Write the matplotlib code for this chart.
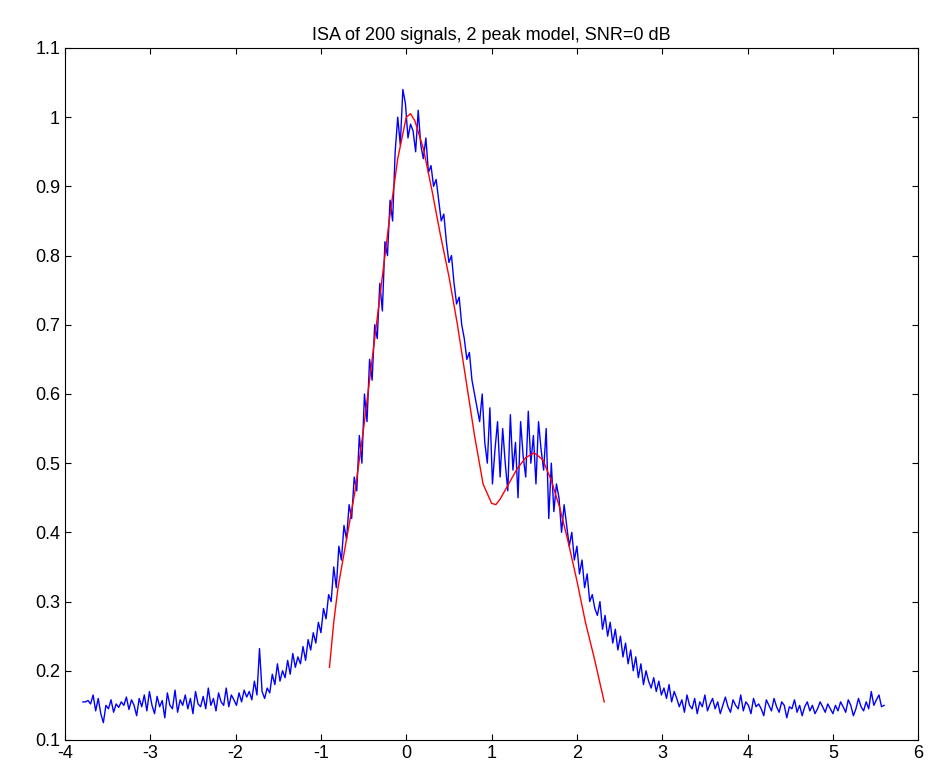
import numpy as np
import matplotlib
matplotlib.use("Agg")
import matplotlib.pyplot as plt

plt.rcParams['font.family'] = ['Liberation Sans', 'DejaVu Sans']
plt.rcParams['axes.unicode_minus'] = False

blue_y = [
.155,.155,.157,.152,.165,.142,.160,.138,.125,.150,.145,.158,.140,.152,.147,.155,.150,.162,.144,.158,
.150,.135,.160,.148,.165,.142,.170,.150,.138,.163,.148,.157,.132,.168,.150,.145,.172,.140,.158,.150,
.165,.145,.160,.138,.170,.152,.148,.163,.145,.175,.150,.160,.142,.168,.155,.150,.175,.148,.165,.158,
.150,.168,.155,.172,.162,.170,.158,.185,.165,.232,.170,.160,.175,.168,.195,.180,
.210,.185,.200,.190,.215,.195,.225,.205,.220,.210,.235,.215,.245,
.230,.255,.240,.270,.255,.290,.275,.310,.300,.350,.320,.380,.360,.410,.390,.440,.420,
.480,.460,.540,.500,.600,.560,.650,.620,.700,.680,.760,.720,.820,.800,.880,.850,.950,
1.000,.960,1.040,1.020,.970,.990,.980,.950,1.010,.960,.940,.970,.920,.930,.900,.910,.880,.850,.860,
.820,.790,.800,.760,.730,.740,.700,.680,.650,.660,.620,.600,.580,.560,.600,.530,
.500,.580,.470,.520,.560,.480,.550,.500,.460,.570,.490,.530,.450,.560,.510,.480,.575,.500,.540,.470,.560,.520,.490,.550,
.420,.500,.430,.470,.450,.400,.440,.410,.380,.400,.360,.380,.340,.360,.320,.340,.300,.310,.290,.280,.300,.260,.280,.250,.270,.240,
.260,.230,.250,.220,.240,.210,.230,.200,.220,.190,.210,.180,.200,.185,.175,.190,.170,.185,.165,.175,.160,.180,.155,.170,
.160,.148,.158,.140,.165,.150,.145,.160,.138,.155,.148,.165,.142,.152,.160,.145,.155,.138,.150,.162,
.148,.140,.158,.150,.145,.165,.142,.155,.150,.138,.160,.148,.152,.145,.135,.158,.150,.142,.160,.148,
.140,.155,.150,.132,.148,.145,.158,.140,.150,.135,.148,.155,.142,.150,.138,.145,.155,.148,.140,.152,
.145,.138,.150,.142,.155,.148,.140,.158,.150,.135,.145,.160,.148,.142,.155,.145,.170,.150,.158,.165,.148,.150]
blue_x = np.linspace(-3.79, 5.6, len(blue_y))

red_x = [-0.9,-0.85,-0.8,-0.7,-0.6,-0.5,-0.4,-0.3,-0.2,-0.1,0.0,0.05,0.1,0.2,0.3,0.4,0.5,0.6,0.7,0.8,0.9,
         1.0,1.05,1.1,1.2,1.3,1.4,1.5,1.6,1.7,1.8,1.9,2.0,2.1,2.2,2.32]
red_y = [0.205,0.27,0.32,0.39,0.46,0.55,0.65,0.75,0.85,0.94,1.0,1.005,0.995,0.955,0.895,0.83,0.77,0.70,0.62,0.54,0.47,
         0.442,0.44,0.448,0.47,0.492,0.508,0.515,0.505,0.475,0.435,0.385,0.33,0.27,0.22,0.155]

fig = plt.figure(figsize=(9.36, 7.74), dpi=100)
ax = fig.add_axes([0.0694, 0.044, 0.9116, 0.894])
ax.plot(blue_x, blue_y, color='#0000ff', lw=1)
ax.plot(red_x, red_y, color='#ff0000', lw=1)
ax.set_xlim(-4, 6)
ax.set_ylim(0.1, 1.1)
ax.set_xticks(range(-4, 7))
yt = np.round(np.arange(0.1, 1.11, 0.1), 1)
ax.set_yticks(yt)
ax.set_yticklabels([f"{v:g}" for v in yt])
ax.tick_params(direction='in', top=True, right=True, labelsize=13, length=4)
ax.set_title('ISA of 200 signals, 2 peak model, SNR=0 dB', fontsize=13)
fig.savefig('out.png')
